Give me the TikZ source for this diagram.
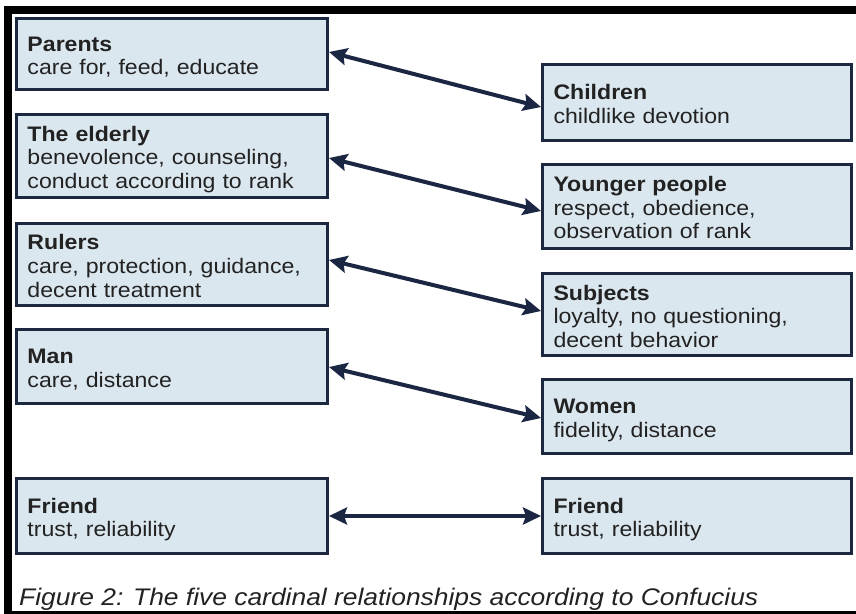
\documentclass[tikz,border=0pt]{standalone}
\usepackage{fontspec}
\setmainfont[FakeStretch=1.1]{Liberation Sans}
\usetikzlibrary{arrows.meta}
\definecolor{boxfill}{RGB}{219,231,238}
\definecolor{boxline}{RGB}{28,40,64}
\definecolor{arrowcol}{RGB}{26,38,66}
\definecolor{txt}{RGB}{34,34,34}
\newcommand\boxtitle[1]{\rule{0pt}{24bp}\textbf{#1}}
\newcommand\boxend{\rule[-6bp]{0pt}{6bp}}
\tikzset{
  box/.style={draw=boxline, fill=boxfill, line width=3bp, align=left,
    inner ysep=0pt, inner xsep=11bp, text=txt,
    font=\fontsize{21bp}{23.5bp}\selectfont},
  lbox/.style={box, text width=289bp},
  rbox/.style={box, text width=287bp},
  rel/.style={draw=arrowcol, line width=4bp,
    {Stealth[length=18bp,width=17bp,inset=3bp]}-{Stealth[length=18bp,width=17bp,inset=3bp]}},
  frame/.style={fill=black, draw=none}
}
\begin{document}
\begin{tikzpicture}[x=1bp,y=-1bp]
\useasboundingbox (0,0) rectangle (856,614);
\fill[white] (0,0) rectangle (856,614);
% frame
\path[frame] (4,6) rectangle (856,14);
\path[frame] (4,6) rectangle (12,614);
\path[frame] (4,611) rectangle (856,614);
% left column
\node[lbox, minimum height=71bp] (parents) at (172,54) {\boxtitle{Parents}\\care for, feed, educate\boxend};
\node[lbox, minimum height=83bp] (elderly) at (172,156) {\boxtitle{The elderly}\\benevolence, counseling,\\conduct according to rank\boxend};
\node[lbox, minimum height=82bp] (rulers) at (172,264.5) {\boxtitle{Rulers}\\care, protection, guidance,\\decent treatment\boxend};
\node[lbox, minimum height=74bp] (man) at (172,366.5) {\boxtitle{Man}\\care, distance\boxend};
\node[lbox, minimum height=75bp] (friendl) at (172,516) {\boxtitle{Friend}\\trust, reliability\boxend};
% right column
\node[rbox, minimum height=76bp] (children) at (697,102.5) {\boxtitle{Children}\\childlike devotion\boxend};
\node[rbox, minimum height=84bp] (younger) at (697,206.5) {\boxtitle{Younger people}\\respect, obedience,\\observation of rank\boxend};
\node[rbox, minimum height=82bp] (subjects) at (697,314.5) {\boxtitle{Subjects}\\loyalty, no questioning,\\decent behavior\boxend};
\node[rbox, minimum height=74bp] (women) at (697,416.5) {\boxtitle{Women}\\fidelity, distance\boxend};
\node[rbox, minimum height=75bp] (friendr) at (697,516) {\boxtitle{Friend}\\trust, reliability\boxend};
% relations
\draw[rel] ([yshift=2bp]parents.east) -- ([yshift=-4.5bp]children.west);
\draw[rel] ([yshift=-2bp]elderly.east) -- ([yshift=-4.5bp]younger.west);
\draw[rel] ([yshift=4.5bp]rulers.east) -- ([yshift=3.5bp]subjects.west);
\draw[rel] ([yshift=-0.5bp]man.east) -- ([yshift=-1.5bp]women.west);
\draw[rel] (friendl.east) -- (friendr.west);
% caption
\node[anchor=base west, inner sep=0pt, text=txt, font=\fontsize{24bp}{28bp}\selectfont\itshape] (caption) at (19,605) {Figure 2: The five cardinal relationships according to Confucius};
\end{tikzpicture}
\end{document}
